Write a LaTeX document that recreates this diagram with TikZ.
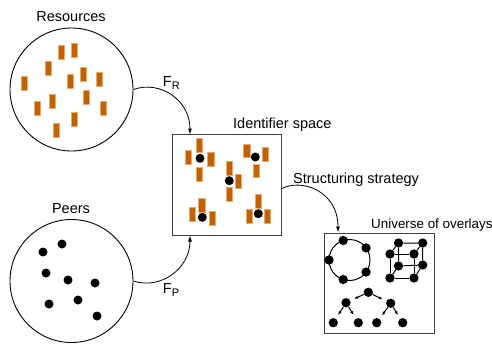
\documentclass[tikz,border=0pt]{standalone}
\usepackage{fontspec}
\setmainfont{Liberation Sans}
\usetikzlibrary{arrows.meta,calc}
\definecolor{rescol}{RGB}{194,96,4}
\definecolor{resedge}{RGB}{232,170,110}
\begin{document}
\begin{tikzpicture}[x=1pt,y=-1pt,
  lbl/.style={font=\fontsize{14.5}{16}\selectfont, inner sep=0pt, anchor=base west},
  clbl/.style={font=\fontsize{14.5}{16}\selectfont, inner sep=0pt, anchor=base},
  set/.style={circle, draw=black, line width=0.9pt, minimum size=123pt, inner sep=0pt},
  resrect/.style={rectangle, fill=rescol, draw=resedge, line width=0.3pt, minimum width=6.2pt, minimum height=13.6pt, inner sep=0pt},
  peer/.style={circle, fill=black, minimum size=9pt, inner sep=0pt},
  odot/.style={circle, fill=black, minimum size=9.3pt, inner sep=0pt},
  frame/.style={draw=black!75, line width=1pt},
  conn/.style={draw=black, line width=0.8pt, -{Latex[length=6pt,width=4pt]}},
  tedge/.style={draw=black, line width=1pt, -{Latex[length=4pt,width=3pt]}, shorten >=4pt},
  edge/.style={draw=black, line width=1pt}]
\useasboundingbox (0,0) rectangle (492,343);

% Resources set
\node[set] (res) at (71.5,89.5) {};
\node[clbl] (reslbl) at (71,21) {Resources};
\foreach \x/\y [count=\i] in {61/52,74/50,48/68,24/83,70/81,83/74,99/79,52/101,86/97,37/108,103/108,74/119,56/130}
  \node[resrect] (r\i) at (\x,\y) {};

% Peers set
\node[set] (peers) at (71.5,281) {};
\node[clbl] (peerslbl) at (71,213) {Peers};
\foreach \x/\y [count=\i] in {43/252,62/244,46/273,68/280,95/283,49/304,78/300,97/316}
  \node[peer] (p\i) at (\x,\y) {};

% Identifier space
\node[frame, rectangle, minimum width=109pt, minimum height=101pt, inner sep=0pt] (ids) at (226.5,185) {};
\node[lbl] (idslbl) at (233,128) {Identifier space};
\foreach \x/\y [count=\i] in {199.3/145,188.3/157.3,210.7/159.3,199.3/174,
  246.7/150.7,265/154,256/170.7,
  229/168.3,238.3/181,229/194.3,
  201.7/205,192.3/214,212.3/218.3,
  258.3/201,249/216,267.3/216}
  \node[resrect] (ir\i) at (\x,\y) {};
\foreach \x/\y [count=\i] in {200/158.3,255.3/157,229.3/180.7,202.3/217.3,258.3/213.7}
  \node[peer] (ip\i) at (\x,\y) {};

% Universe of overlays
\node[frame, rectangle, minimum width=110pt, minimum height=100pt, inner sep=0pt] (uni) at (379.5,283) {};
\node[lbl, font=\fontsize{13.4}{15}\selectfont] (unilbl) at (371,228) {Universe of overlays};

% ring
\coordinate (rc) at (349.5,260);
\draw[edge] (rc) circle[radius=20.5pt];
\foreach \a [count=\i] in {180,108,36,-36,-108}
  \node[odot] (ring\i) at ($(rc)+(\a:20.5pt)$) {};

% cube
\node[odot] (c1) at (390,254) {};
\node[odot] (c2) at (414,254) {};
\node[odot] (c3) at (390,278) {};
\node[odot] (c4) at (414,278) {};
\node[odot] (c5) at (398.5,243) {};
\node[odot] (c6) at (422.7,243) {};
\node[odot] (c7) at (398.5,266) {};
\node[odot] (c8) at (422.7,265) {};
\draw[edge] (c1) -- (c2) -- (c4) -- (c3) -- (c1);
\draw[edge] (c5) -- (c6) -- (c8) -- (c7) -- (c5);
\draw[edge] (c1) -- (c5);
\draw[edge] (c2) -- (c6);
\draw[edge] (c3) -- (c7);
\draw[edge] (c4) -- (c8);

% tree
\node[odot] (t0) at (368.3,292.3) {};
\node[odot] (t1) at (346,302.7) {};
\node[odot] (t2) at (390.7,303.3) {};
\node[odot] (t3) at (333.3,322.7) {};
\node[odot] (t4) at (358.3,322.7) {};
\node[odot] (t5) at (376.7,322.7) {};
\node[odot] (t6) at (402.7,322.7) {};
\draw[tedge] (t0) -- (t1);
\draw[tedge] (t0) -- (t2);
\draw[tedge] (t1) -- (t3);
\draw[tedge] (t1) -- (t4);
\draw[tedge] (t2) -- (t5);
\draw[tedge] (t2) -- (t6);

% connectors
\coordinate (frend) at (190,134.5);
\coordinate (fpend) at (190,235.5);
\coordinate (ssstart) at (281,189);
\coordinate (ssend) at (338,232.5);
\draw[conn] (res.east) .. controls (160,80) and (190,100) .. (frend);
\draw[conn] (peers.east) .. controls (160,290) and (190,269) .. (fpend);
\draw[conn] (ssstart) .. controls (300,178) and (338,190) .. (ssend);

\node[lbl] (fr) at (162.7,86) {F\raisebox{-0.42ex}{\fontsize{11}{12}\selectfont R}};
\node[lbl] (fp) at (162.7,293.3) {F\raisebox{-0.42ex}{\fontsize{11}{12}\selectfont P}};
\node[lbl] (sslbl) at (293,183) {Structuring strategy};
\end{tikzpicture}
\end{document}
